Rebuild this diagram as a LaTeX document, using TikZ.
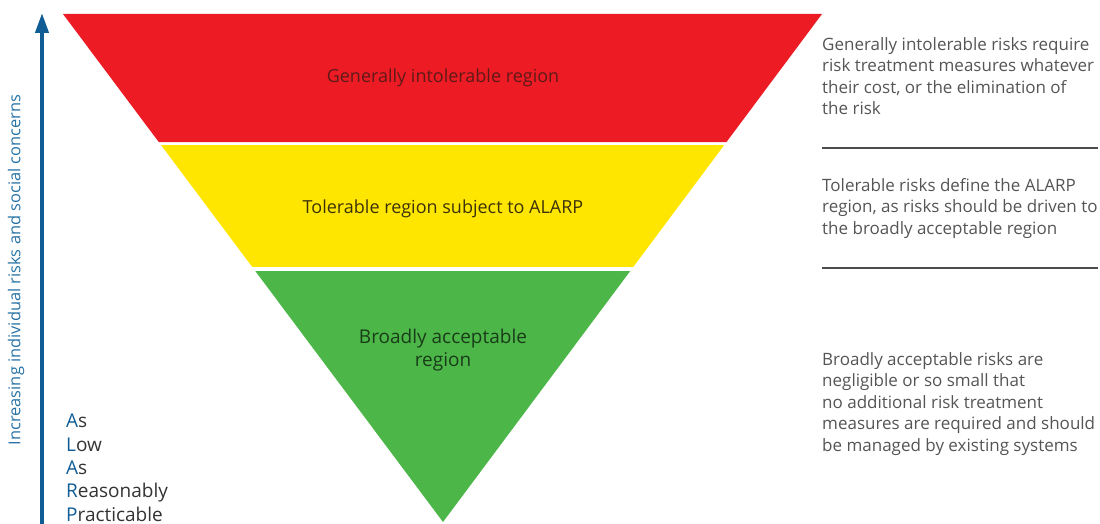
\documentclass[tikz,border=0pt]{standalone}
\usepackage{fontspec}
\setmainfont{Open Sans}
\usetikzlibrary{arrows.meta,calc}
\definecolor{rred}{RGB}{237,28,36}
\definecolor{ryel}{RGB}{255,230,0}
\definecolor{rgrn}{RGB}{76,183,72}
\definecolor{rblue}{RGB}{16,92,148}
\definecolor{tblue}{RGB}{40,115,165}
\definecolor{tgray}{RGB}{85,85,85}
\definecolor{tred}{RGB}{95,25,25}
\definecolor{tyel}{RGB}{60,50,10}
\definecolor{tgrn}{RGB}{25,60,25}
\begin{document}
\begin{tikzpicture}[x=1pt,y=-1pt,
  desc/.style={anchor=north west,inner sep=0pt,align=left,text=tgray,font=\fontsize{17}{21.5}\selectfont},
  lbl/.style={inner sep=0pt,align=center,font=\fontsize{18}{23}\selectfont},
  sep/.style={draw=tgray!90!black,line width=2pt}]
\useasboundingbox (0,0) rectangle (1100,524);
\coordinate (TL) at (63,14);
\coordinate (TR) at (822,14);
\coordinate (AP) at (443,522);
% bands
\fill[rred] (TL) -- (TR) -- ($(TR)!0.252!(AP)$) -- ($(TL)!0.252!(AP)$) -- cycle;
\fill[ryel] ($(TL)!0.258!(AP)$) -- ($(TR)!0.258!(AP)$) -- ($(TR)!0.498!(AP)$) -- ($(TL)!0.498!(AP)$) -- cycle;
\fill[rgrn] ($(TL)!0.506!(AP)$) -- ($(TR)!0.506!(AP)$) -- (AP) -- cycle;
% labels
\node[lbl,text=tred] (l1) at (443,78) {Generally intolerable region};
\node[lbl,text=tyel] (l2) at (443,209) {Tolerable region subject to ALARP};
\node[lbl,text=tgrn,font=\fontsize{19}{23}\selectfont] (l3) at (443,350) {Broadly acceptable\\region};
% arrow
\coordinate (ab) at (42,524);
\coordinate (at) at (42,13);
\draw[rblue,line width=4pt,-{Triangle[length=20pt,width=13pt]}] (ab) -- (at);
\node[rotate=90,text=tblue,font=\fontsize{16.4}{18}\selectfont] (inc) at (16,270) {Increasing individual risks and social concerns};
% ALARP
\node[anchor=north west,inner sep=0pt,align=left,font=\fontsize{19}{23.3}\selectfont,text=black!80] (alarp) at (66,414)
 {\textcolor{rblue}{A}s\\\textcolor{rblue}{L}ow\\\textcolor{rblue}{A}s\\\textcolor{rblue}{R}easonably\\\textcolor{rblue}{P}racticable};
% right descriptions
\node[desc] (d1) at (822,37) {Generally intolerable risks require\\risk treatment measures whatever\\their cost, or the elimination of\\the risk};
\node[desc] (d2) at (822,178) {Tolerable risks define the ALARP\\region, as risks should be driven to\\the broadly acceptable region};
\node[desc] (d3) at (822,352) {Broadly acceptable risks are\\negligible or so small that\\no additional risk treatment\\measures are required and should\\be managed by existing systems};
\coordinate (s1a) at (822,148); \coordinate (s1b) at (1098,148);
\coordinate (s2a) at (822,268); \coordinate (s2b) at (1098,268);
\draw[sep] (s1a) -- (s1b);
\draw[sep] (s2a) -- (s2b);
\end{tikzpicture}
\end{document}
